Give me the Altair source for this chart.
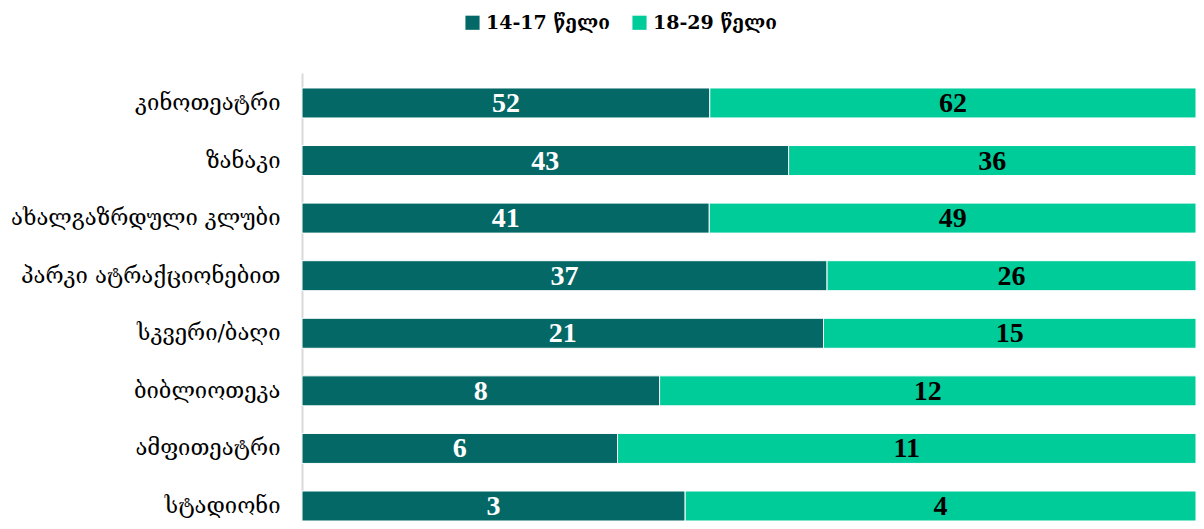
import altair as alt
import pandas as pd

categories = ["კინოთეატრი", "ზანაკი", "ახალგაზრდული კლუბი", "პარკი ატრაქციონებით",
              "სკვერი/ბაღი", "ბიბლიოთეკა", "ამფითეატრი", "სტადიონი"]
groups = ["14-17 წელი", "18-29 წელი"]
values_14_17 = [52, 43, 41, 37, 21, 8, 6, 3]
values_18_29 = [62, 36, 49, 26, 15, 12, 11, 4]
colors = ["#036866", "#00CC9A"]

rows = []
for c, a, b in zip(categories, values_14_17, values_18_29):
    rows.append({"cat": c, "grp": groups[0], "val": a, "ord": 0})
    rows.append({"cat": c, "grp": groups[1], "val": b, "ord": 1})
df = pd.DataFrame(rows)

FONT = "DejaVu Serif"
NUMFONT = "Liberation Serif, DejaVu Serif"

base = alt.Chart(df).transform_stack(
    stack="val", groupby=["cat"], as_=["x0", "x1"], offset="normalize",
    sort=[alt.SortField("ord", order="ascending")]
).transform_calculate(mid="(datum.x0 + datum.x1) / 2")

y_enc = alt.Y("cat:N", sort=categories, title=None,
              scale=alt.Scale(paddingInner=0.479, paddingOuter=0.13, align=1),
              axis=alt.Axis(ticks=False, domainColor="#d9d9d9", domainWidth=2,
                            labelFont=FONT, labelFontSize=22, labelColor="#000000",
                            labelPadding=22, labelLimit=300))

bars = base.mark_bar(stroke="white", strokeWidth=1).encode(
    y=y_enc,
    x=alt.X("x0:Q", axis=None, scale=alt.Scale(domain=[0, 1], nice=False)),
    x2="x1:Q",
    color=alt.Color("grp:N", sort=groups, title=None,
                    scale=alt.Scale(domain=groups, range=colors),
                    legend=alt.Legend(orient="none", direction="horizontal",
                                      legendX=161, legendY=-60,
                                      symbolType="square", symbolSize=200,
                                      symbolStrokeWidth=0,
                                      labelFont=FONT, labelFontSize=19,
                                      labelFontWeight="bold", labelColor="#000000",
                                      columnPadding=20, symbolOffset=0)),
)

labels = base.mark_text(font=NUMFONT, fontSize=28, fontWeight="bold", baseline="middle", dy=1).encode(
    y=alt.Y("cat:N", sort=categories),
    x=alt.X("mid:Q"),
    text=alt.Text("val:Q"),
    color=alt.Color("grp:N", scale=alt.Scale(domain=groups, range=["#ffffff", "#000000"]), legend=None),
)

chart = alt.layer(bars, labels).resolve_scale(color="independent").properties(
    width=894, height=448,
    autosize=alt.AutoSizeParams(type="none"),
    padding={"left": 294, "top": 65, "right": 0, "bottom": 0},
).configure_view(stroke=None)

chart.save("out.html", embed_options={"renderer": "svg", "actions": False})
